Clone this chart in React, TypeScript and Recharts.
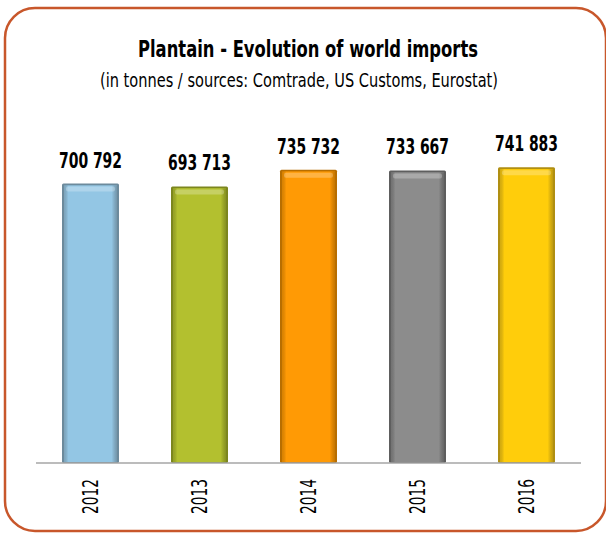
import React from 'react';
import { BarChart, Bar, XAxis, YAxis, LabelList } from 'recharts';

const years = ['2012', '2013', '2014', '2015', '2016'];
const imports = [700792, 693713, 735732, 733667, 741883];

const barColors = ['#93C6E4', '#B3C02F', '#FF9A05', '#8C8C8C', '#FFCD0B'];
const edgeColors = ['#6C8A9C', '#7C861E', '#B86E00', '#5E5E5E', '#B08F12'];

const data = years.map((year, i) => ({ year, value: imports[i] }));

const FONT = '"DejaVu Sans Condensed", "DejaVu Sans", sans-serif';

const fmt = (v: number) =>
  String(v).replace(/\B(?=(\d{3})+(?!\d))/g, ' ');

const BevelBar = (props: any) => {
  const { x, y, width, height, index } = props;
  if (!height || height <= 0) return null;
  const fill = barColors[index];
  const edge = edgeColors[index];
  const id = `bar-grad-${index}`;
  return (
    <g>
      <defs>
        <linearGradient id={id} x1="0" y1="0" x2="1" y2="0">
          <stop offset="0" stopColor={edge} stopOpacity={0.55} />
          <stop offset="0.08" stopColor={fill} />
          <stop offset="0.9" stopColor={fill} />
          <stop offset="1" stopColor={edge} stopOpacity={0.8} />
        </linearGradient>
      </defs>
      <rect x={x} y={y} width={width} height={height} fill={edge} rx={1.5} />
      <rect x={x + 2} y={y + 2} width={width - 4} height={height - 3} fill={fill} />
      <rect x={x + 2} y={y + 2} width={width - 4} height={height - 3} fill={`url(#${id})`} />
      <rect x={x + 4} y={y + 3} width={width - 8} height={5} fill="#ffffff" opacity={0.25} rx={2} />
    </g>
  );
};

const ValueLabel = (props: any) => {
  const { x, y, width, value } = props;
  return (
    <text
      x={x + width / 2}
      y={y - 16}
      textAnchor="middle"
      fontFamily={FONT}
      fontSize={22}
      fontWeight={700}
      fill="#000"
      textLength={63}
      lengthAdjust="spacingAndGlyphs"
    >
      {fmt(Number(value))}
    </text>
  );
};

const YearTick = (props: any) => {
  const { x, payload } = props;
  return (
    <text
      transform={`translate(${x + 7},479) rotate(-90)`}
      textAnchor="end"
      fontFamily={FONT}
      fontSize={21}
      fill="#000"
      textLength={35}
      lengthAdjust="spacingAndGlyphs"
    >
      {payload.value}
    </text>
  );
};

const App = () => {
  return (
    <div
      style={{
        position: 'absolute',
        left: 0,
        top: 0,
        width: 606,
        height: 533,
        background: '#fff',
        overflow: 'hidden',
      }}
    >
      <BarChart
        width={606}
        height={533}
        data={data}
        margin={{ top: 144, right: 25, bottom: 40, left: 36 }}
      >
        <YAxis hide domain={[0, 800000]} />
        <XAxis
          dataKey="year"
          height={30}
          axisLine={{ stroke: '#A6A6A6', strokeWidth: 1.5 }}
          tickLine={false}
          tick={<YearTick />}
          interval={0}
        />
        <Bar dataKey="value" barSize={57} shape={<BevelBar />} isAnimationActive={false}>
          <LabelList dataKey="value" content={<ValueLabel />} />
        </Bar>
      </BarChart>
      <svg
        width={606}
        height={533}
        style={{ position: 'absolute', left: 0, top: 0, pointerEvents: 'none' }}
      >
        <rect
          x={5}
          y={8}
          width={601}
          height={523}
          rx={30}
          ry={30}
          fill="none"
          stroke="#C8572B"
          strokeWidth={2.5}
        />
        <text
          x={308}
          y={57}
          textAnchor="middle"
          fontFamily={FONT}
          fontSize={23}
          fontWeight={700}
          fill="#000"
          textLength={340}
          lengthAdjust="spacingAndGlyphs"
        >
          Plantain - Evolution of world imports
        </text>
        <text
          x={299}
          y={87}
          textAnchor="middle"
          fontFamily={FONT}
          fontSize={19}
          fill="#000"
          textLength={398}
          lengthAdjust="spacingAndGlyphs"
        >
          (in tonnes / sources: Comtrade, US Customs, Eurostat)
        </text>
      </svg>
    </div>
  );
};

export default App;
